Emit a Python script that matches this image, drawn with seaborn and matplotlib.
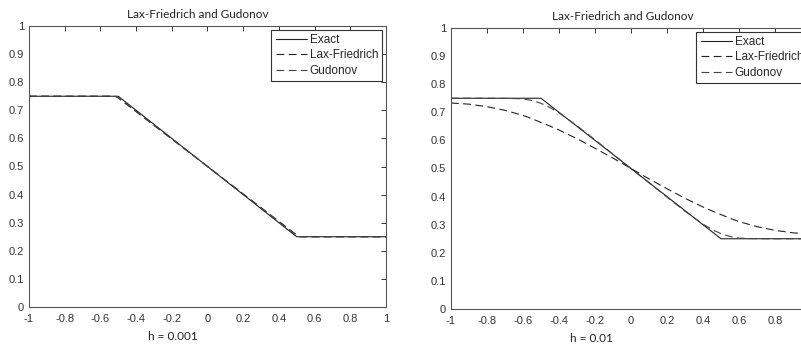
import matplotlib
matplotlib.use("Agg")
import matplotlib.pyplot as plt
import seaborn as sns
import pandas as pd

# ---- data ----
exact_x = [-1.0, -0.5, 0.5, 1.0]
exact_y = [0.75, 0.75, 0.25, 0.25]

# h = 0.001 (numerical solutions practically on top of the exact one)
fine_x = [-1.0, -0.6, -0.52, -0.51, -0.5, -0.49, -0.48, 0.48, 0.49, 0.5, 0.51, 0.52, 0.6, 1.0]
fine_lf = [0.75, 0.75, 0.7497, 0.7478, 0.7440, 0.7392, 0.7344, 0.2656, 0.2608, 0.2560, 0.2522, 0.2503, 0.25, 0.25]
fine_gd = [0.75, 0.75, 0.7499, 0.7485, 0.7455, 0.7405, 0.7352, 0.2648, 0.2595, 0.2545, 0.2515, 0.2501, 0.25, 0.25]

# h = 0.01
coarse_x = [-1.0, -0.9, -0.8, -0.7, -0.6, -0.55, -0.5, -0.45, -0.4, -0.3, -0.2, -0.1, 0.0,
            0.1, 0.2, 0.3, 0.4, 0.45, 0.5, 0.55, 0.6, 0.7, 0.8, 0.9, 1.0]
coarse_lf = [0.733, 0.729, 0.720, 0.707, 0.689, 0.677, 0.664, 0.651, 0.637, 0.606, 0.572, 0.537, 0.5,
             0.463, 0.428, 0.394, 0.363, 0.349, 0.336, 0.323, 0.311, 0.293, 0.280, 0.271, 0.267]
coarse_gd = [0.75, 0.75, 0.75, 0.7495, 0.748, 0.742, 0.732, 0.717, 0.698, 0.652, 0.602, 0.551, 0.5,
             0.449, 0.398, 0.348, 0.302, 0.283, 0.268, 0.258, 0.252, 0.2502, 0.25, 0.25, 0.25]

title_text = "Lax-Friedrich and Gudonov"
xlabels = ["h = 0.001", "h = 0.01"]
series_names = ["Exact", "Lax-Friedrich", "Gudonov"]
xticks = [-1, -0.8, -0.6, -0.4, -0.2, 0, 0.2, 0.4, 0.6, 0.8, 1]
xticklabels = ["-1", "-0.8", "-0.6", "-0.4", "-0.2", "0", "0.2", "0.4", "0.6", "0.8", "1"]
yticks = [0, 0.1, 0.2, 0.3, 0.4, 0.5, 0.6, 0.7, 0.8, 0.9, 1]
yticklabels = ["0", "0.1", "0.2", "0.3", "0.4", "0.5", "0.6", "0.7", "0.8", "0.9", "1"]

sns.set_style("white")
plt.rcParams["font.family"] = ["Liberation Sans", "DejaVu Sans"]

fig = plt.figure(figsize=(8.01, 3.47), dpi=100)
ax1 = fig.add_axes([29 / 801, 40 / 347, 357 / 801, 281 / 347])
ax2 = fig.add_axes([451 / 801, 38 / 347, 360 / 801, 281 / 347])

panels = [
    (ax1, fine_x, fine_lf, fine_gd, xlabels[0], 0.403, 0.472),
    (ax2, coarse_x, coarse_lf, coarse_gd, xlabels[1], 0.389, 0.478),
]

line_col = "#222222"
for ax, xs, lf, gd, xl, xlab_pos, title_pos in panels:
    sns.lineplot(x=exact_x, y=exact_y, ax=ax, color=line_col, linewidth=0.8,
                 label=series_names[0], sort=False)
    sns.lineplot(x=xs, y=lf, ax=ax, color=line_col, linewidth=0.8,
                 linestyle=(0, (7, 4)), label=series_names[1], sort=False)
    sns.lineplot(x=xs, y=gd, ax=ax, color="#444444", linewidth=0.8,
                 linestyle=(0, (7, 4)), label=series_names[2], sort=False)
    ax.set_xlim(-1, 1)
    ax.set_ylim(0, 1)
    ax.set_xticks(xticks)
    ax.set_xticklabels(xticklabels)
    ax.set_yticks(yticks)
    ax.set_yticklabels(yticklabels)
    ax.tick_params(direction="in", length=3.5, width=0.7, colors="#333333",
                   labelsize=8, top=True, right=True)
    ax.tick_params(axis="x", pad=4.8)
    ax.tick_params(axis="y", pad=3.5)
    for sp in ax.spines.values():
        sp.set_color("#555555")
        sp.set_linewidth(0.8)
    ax.set_title(title_text, fontsize=8.5, family=["Lato", "DejaVu Sans"],
                 color="#222222", x=title_pos, pad=6)
    ax.set_xlabel(xl, fontsize=8.5, family=["Lato", "DejaVu Sans"],
                  color="#222222")
    ax.xaxis.set_label_coords(xlab_pos, -23.5 / 281)
    ax.set_ylabel("")
    leg = ax.legend(loc="upper right", fontsize=8.5, frameon=True, fancybox=False,
                    handlelength=2.7, handletextpad=0.2, borderpad=0.35,
                    labelspacing=0.3, borderaxespad=0.3)
    leg.get_frame().set_edgecolor("#333333")
    leg.get_frame().set_linewidth(0.8)
    leg.get_frame().set_alpha(1)

fig.savefig("out.png", dpi=100)
